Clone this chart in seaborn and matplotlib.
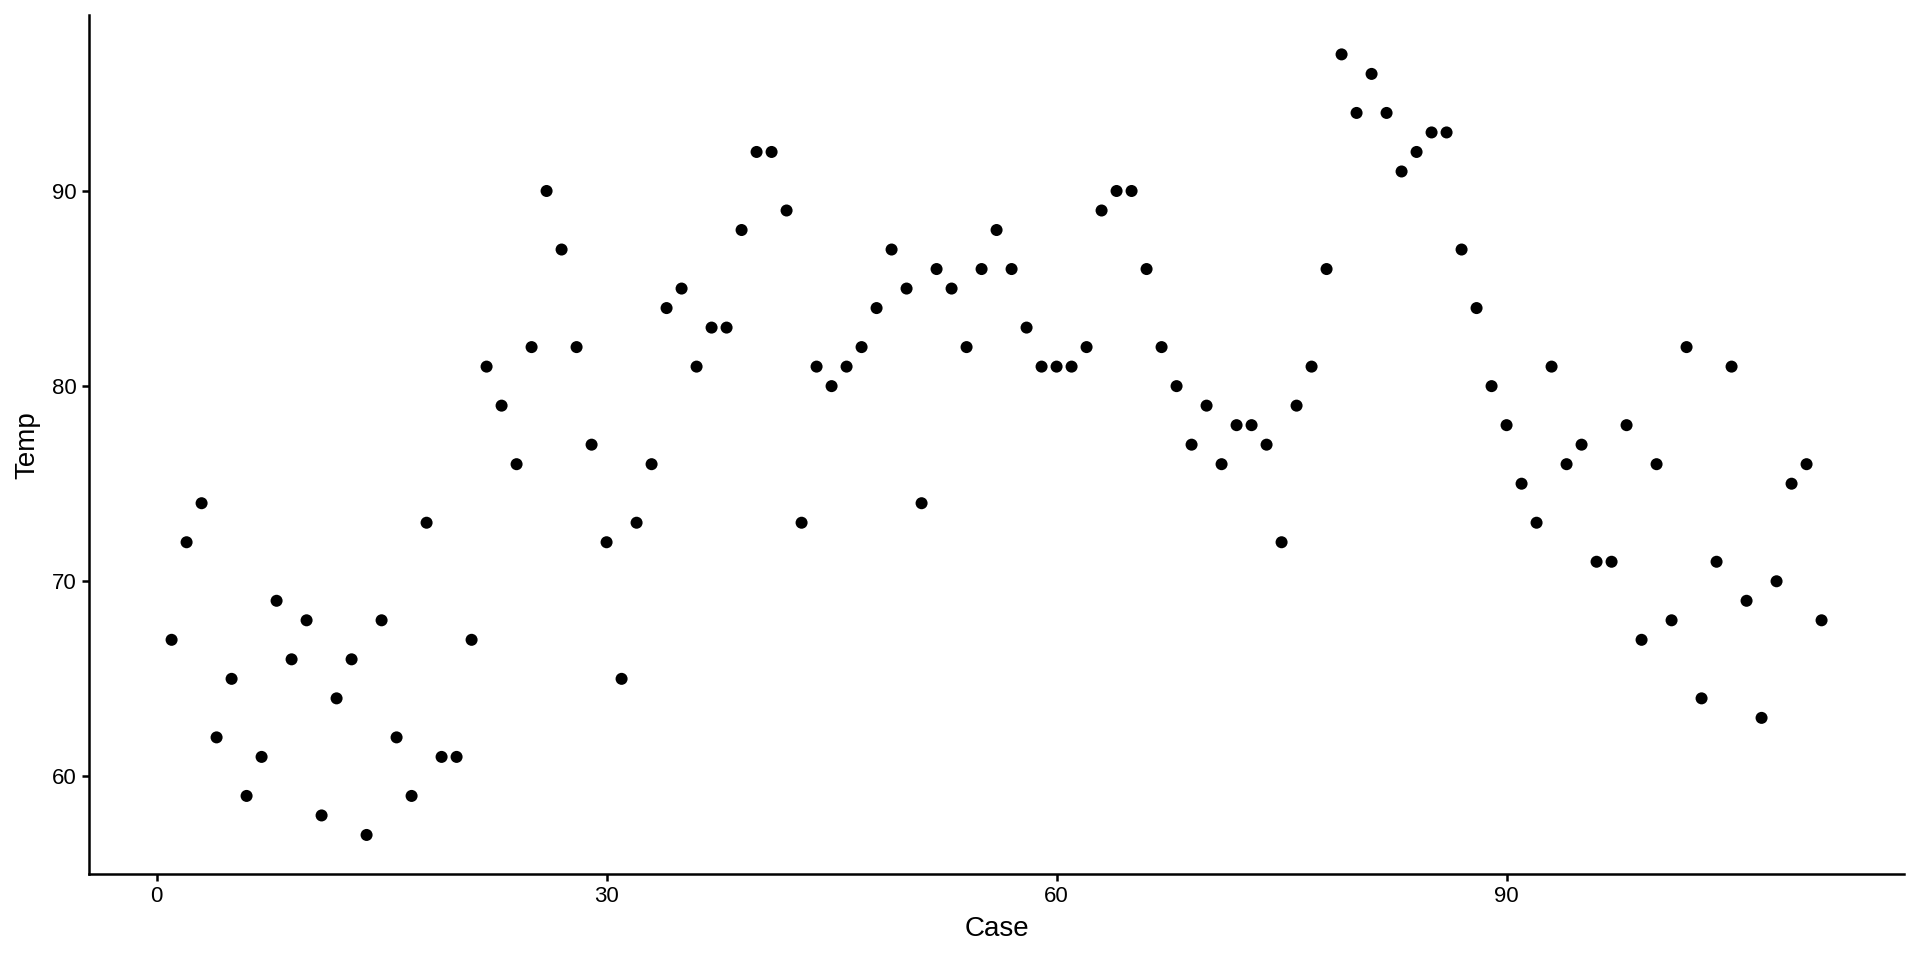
import numpy as np
import pandas as pd
import seaborn as sns
import matplotlib
matplotlib.use('Agg')
import matplotlib.pyplot as plt

temp = [67, 72, 74, 62, 65, 59, 61, 69, 66, 68,
        58, 64, 66, 57, 68, 62, 59, 73, 61, 61,
        67, 81, 79, 76, 82, 90, 87, 82, 77, 72,
        65, 73, 76, 84, 85, 81, 83, 83, 88, 92,
        92, 89, 73, 81, 80, 81, 82, 84, 87, 85,
        74, 86, 85, 82, 86, 88, 86, 83, 81, 81,
        81, 82, 89, 90, 90, 86, 82, 80, 77, 79,
        76, 78, 78, 77, 72, 79, 81, 86, 97, 94,
        96, 94, 91, 92, 93, 93, 87, 84, 80, 78,
        75, 73, 81, 76, 77, 71, 71, 78, 67, 76,
        68, 82, 64, 71, 81, 69, 63, 70, 75, 76,
        68]
case = list(range(1, len(temp) + 1))
x_ticks = [0, 30, 60, 90]
y_ticks = [60, 70, 80, 90]

df = pd.DataFrame({'Case': case, 'Temp': temp})

sns.set_style('ticks')
plt.rcParams['font.family'] = ['Liberation Sans', 'DejaVu Sans']

fig = plt.figure(figsize=(19.2, 9.6), dpi=100)
ax = fig.add_axes([0.0464, 0.0896, 0.9453, 0.8944])
sns.scatterplot(data=df, x='Case', y='Temp', ax=ax, color='black',
                s=75, linewidth=0, edgecolor='none')

span_x = max(case) - min(case)
span_y = max(temp) - min(temp)
ax.set_xlim(min(case) - 0.05 * span_x, max(case) + 0.05 * span_x)
ax.set_ylim(min(temp) - 0.05 * span_y, max(temp) + 0.05 * span_y)
ax.set_xticks(x_ticks)
ax.set_yticks(y_ticks)
ax.tick_params(axis='both', labelsize=16, colors='black', length=5, width=1.8, pad=4)
ax.set_xlabel('Case', fontsize=20, color='black', labelpad=6)
ax.set_ylabel('Temp', fontsize=20, color='black', labelpad=8)
sns.despine(ax=ax)
for side in ['left', 'bottom']:
    ax.spines[side].set_linewidth(1.8)
    ax.spines[side].set_color('black')

fig.savefig('out.png', dpi=100)
